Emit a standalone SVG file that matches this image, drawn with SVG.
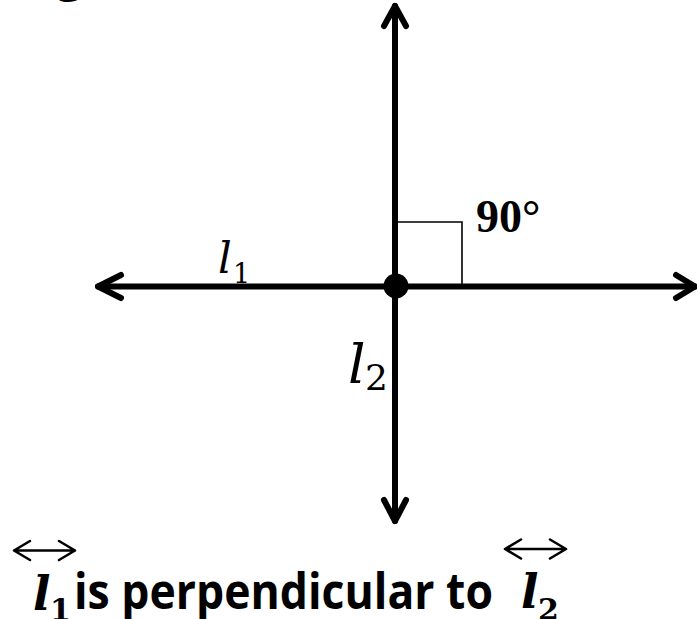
<svg xmlns="http://www.w3.org/2000/svg" width="697" height="619" viewBox="0 0 697 619">
<style>
.ln{stroke:#000;stroke-width:6;fill:none;stroke-linecap:round;stroke-linejoin:round}
.thin{stroke:#000;stroke-width:1.6;fill:none}
.acc{stroke:#000;stroke-width:2.6;fill:none;stroke-linecap:round;stroke-linejoin:round}
.mi{font-family:"DejaVu Serif","Liberation Serif",serif;font-style:italic}
.mn{font-family:"DejaVu Serif","Liberation Serif",serif}
.mb{font-family:"Liberation Serif","Times New Roman",serif;font-weight:bold}
.bi{font-family:"DejaVu Serif","Liberation Serif",serif;font-weight:bold;font-style:italic}
.bn{font-family:"DejaVu Serif","Liberation Serif",serif;font-weight:bold}
.sans{font-family:"Open Sans","Noto Sans","Liberation Sans",sans-serif;font-weight:bold}
</style>
<rect width="697" height="619" fill="#fff"/>
<text class="sans" x="56" y="-10" font-size="48">g</text>
<g id="connectors">
<path id="line1" class="ln" d="M98 286.5 H695"/>
<path class="ln" d="M121 275 L98 286.5 L121 298"/>
<path class="ln" d="M676 275 L695 286.5 L676 298"/>
<path id="line2" class="ln" d="M395 6 V521"/>
<path class="ln" d="M384 26 L395 6 L406 26"/>
<path class="ln" d="M384 500 L395 521 L406 500"/>
</g>
<g id="right-angle">
<path class="thin" d="M397 222 H462 V284"/>
<text class="mb" x="476" y="232" font-size="46">90°</text>
</g>
<g id="intersection">
<circle cx="396" cy="286" r="12.5" fill="#000"/>
</g>
<g id="label-l1">
<text class="mi" x="218" y="273" font-size="43">l</text>
<text class="mn" x="233" y="283" font-size="27">1</text>
</g>
<g id="label-l2">
<text class="mi" x="348" y="383" font-size="55">l</text>
<text class="mn" x="365" y="390" font-size="36">2</text>
</g>
<g id="statement">
<path class="acc" d="M14 550.5 H75 M30 541 L14 550.5 L30 560 M59 541 L75 550.5 L59 560"/>
<text class="bi" x="33" y="610" font-size="46">l</text>
<text class="bn" x="50" y="620" font-size="30">1</text>
<text class="sans" x="74" y="609" font-size="50" textLength="419" lengthAdjust="spacingAndGlyphs">is perpendicular to</text>
<path class="acc" d="M505 549 H566 M521 539.5 L505 549 L521 558.5 M550 539.5 L566 549 L550 558.5"/>
<text class="bi" x="521" y="608" font-size="46">l</text>
<text class="bn" x="538" y="620" font-size="30">2</text>
</g>
</svg>
